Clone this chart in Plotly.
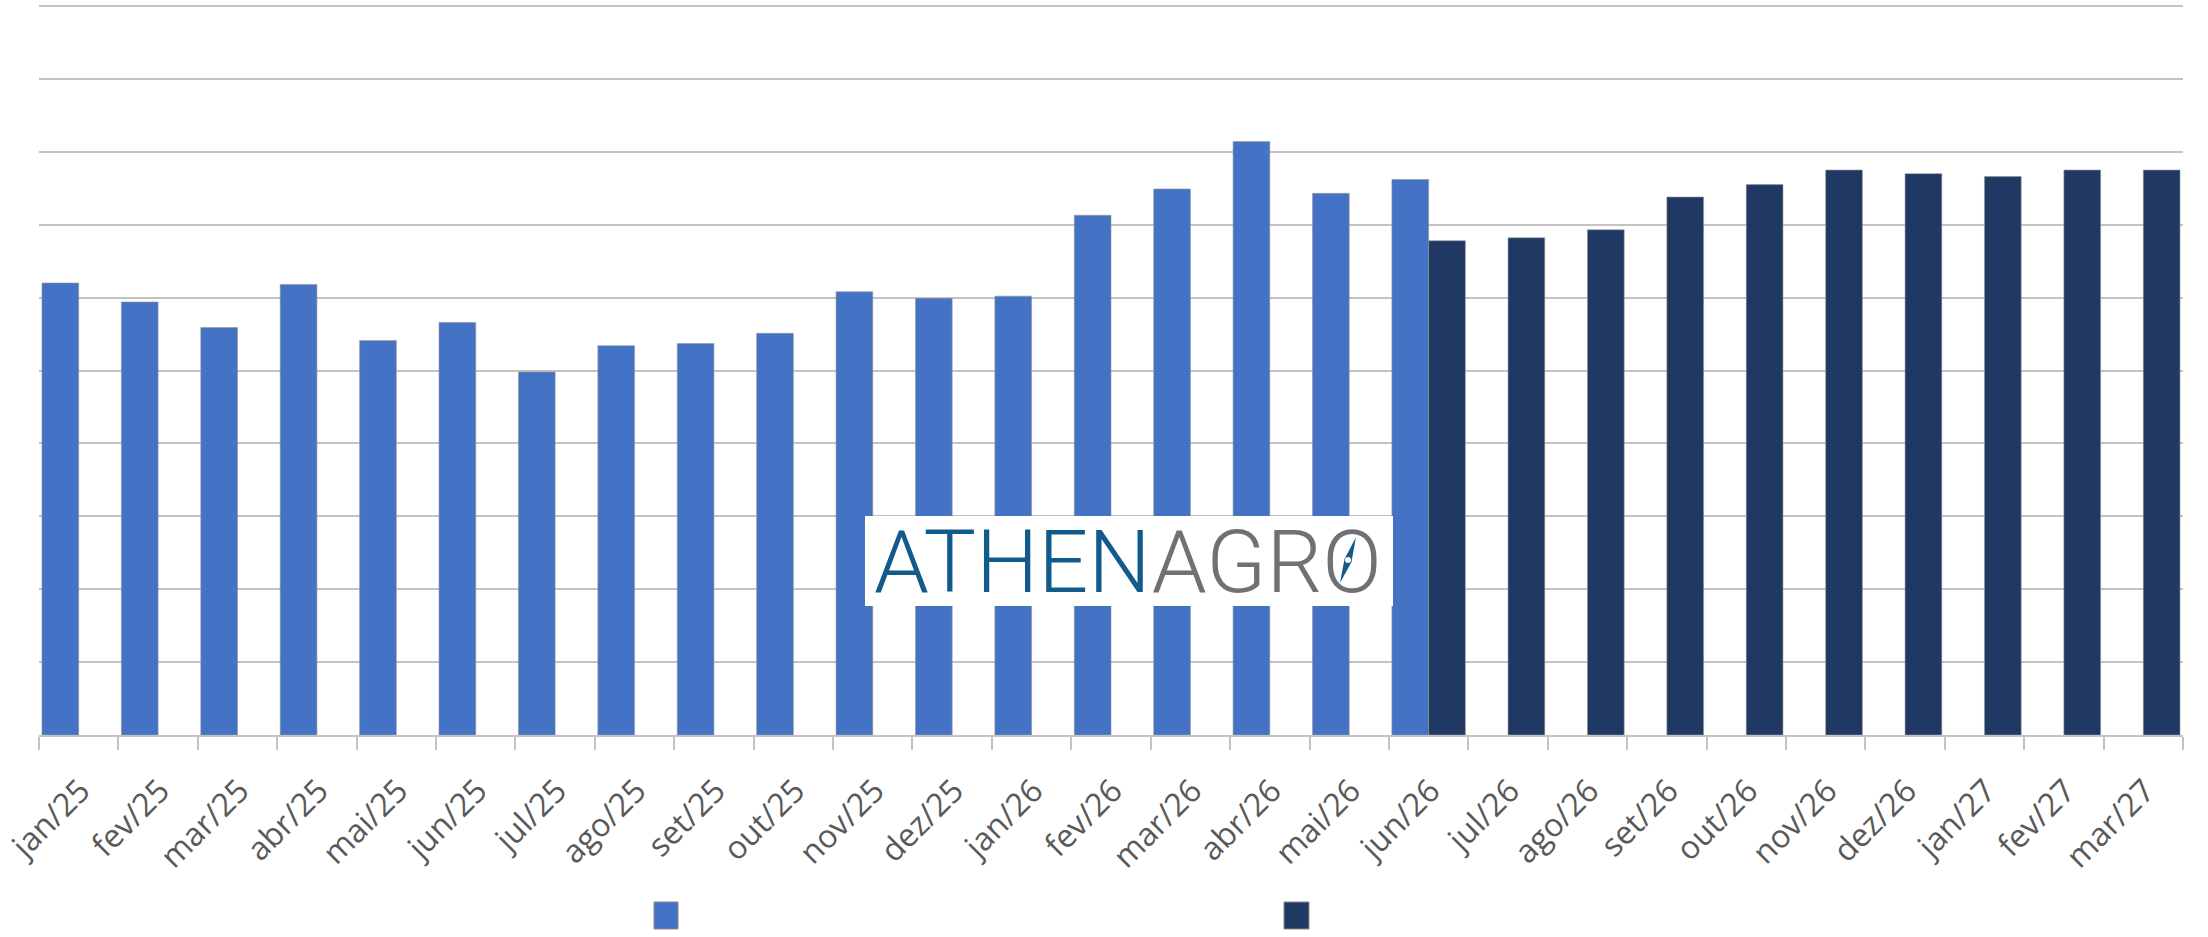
import plotly.graph_objects as go

# categorias (meses) e séries
meses = ["jan/25", "fev/25", "mar/25", "abr/25", "mai/25", "jun/25", "jul/25",
         "ago/25", "set/25", "out/25", "nov/25", "dez/25", "jan/26", "fev/26",
         "mar/26", "abr/26", "mai/26", "jun/26", "jul/26", "ago/26", "set/26",
         "out/26", "nov/26", "dez/26", "jan/27", "fev/27", "mar/27"]

realizado = [6.20, 5.94, 5.59, 6.18, 5.41, 5.66, 4.98, 5.34, 5.37, 5.51,
             6.08, 5.99, 6.02, 7.13, 7.49, 8.14, 7.43, 7.62,
             None, None, None, None, None, None, None, None, None]

projecao = [None] * 17 + [6.78, 6.82, 6.93, 7.38, 7.55, 7.75, 7.70, 7.66, 7.75, 7.75]

AZUL = "#4472C4"
ESCURO = "#1F3864"
GRADE = "#C3C3C3"
LOGO_AZUL = "#115A8B"
LOGO_CINZA = "#707174"

# margens em pixels (janela 2208x937)
L, R, T, B = 39, 25, 4, 202
W = 2208 - L - R
H = 937 - T - B


def px_x(p):
    return (p - L) / W


def px_y(p):
    return (937 - B - p) / H


fig = go.Figure()
fig.add_trace(go.Bar(x=meses, y=realizado, name=" ", marker_color=AZUL,
                     marker_line=dict(color="rgba(150,150,150,0.6)", width=1),
                     showlegend=False))
fig.add_trace(go.Bar(x=meses, y=projecao, name=" ", marker_color=ESCURO,
                     marker_line=dict(color="rgba(150,150,150,0.6)", width=1),
                     showlegend=False))

shapes = []
# caixa branca do logo
shapes.append(dict(type="rect", xref="paper", yref="paper", layer="above",
                   x0=px_x(865), x1=px_x(1393), y0=px_y(606), y1=px_y(516),
                   fillcolor="white", line_width=0))
# agulha da bússola dentro do "O"
shapes.append(dict(type="path", xref="paper", yref="paper", layer="above",
                   path="M {} {} L {} {} L {} {} L {} {} Z".format(
                       px_x(1356), px_y(537), px_x(1351.5), px_y(562),
                       px_x(1340), px_y(583), px_x(1344.5), px_y(559)),
                   fillcolor=LOGO_AZUL, line_width=0))
shapes.append(dict(type="circle", xref="paper", yref="paper", layer="above",
                   x0=px_x(1345), x1=px_x(1351), y0=px_y(563), y1=px_y(557),
                   fillcolor="white", line_width=0))
# quadrados da legenda
shapes.append(dict(type="rect", xref="paper", yref="paper",
                   x0=px_x(654), x1=px_x(678), y0=px_y(929), y1=px_y(902),
                   fillcolor=AZUL, line=dict(color="#8a8a8a", width=1)))
shapes.append(dict(type="rect", xref="paper", yref="paper",
                   x0=px_x(1284), x1=px_x(1309), y0=px_y(929), y1=px_y(902),
                   fillcolor=ESCURO, line=dict(color="#8a8a8a", width=1)))

logo = ("<span style='color:%s'>ATHEN</span><span style='color:%s'>AGRO</span>"
        % (LOGO_AZUL, LOGO_CINZA))
annotations = [dict(text=logo, xref="paper", yref="paper",
                    x=px_x(1128), y=px_y(561), xanchor="center", yanchor="middle",
                    showarrow=False,
                    font=dict(family="Roboto", size=88, weight=300))]

fig.update_layout(
    width=2208, height=937,
    margin=dict(l=L, r=R, t=T, b=B, autoexpand=False),
    paper_bgcolor="white", plot_bgcolor="white",
    barmode="group", bargap=0.075, bargroupgap=0,
    showlegend=False,
    shapes=shapes, annotations=annotations,
    xaxis=dict(type="category", showgrid=False, showline=True,
               linecolor=GRADE, linewidth=2, ticks="outside",
               tickson="boundaries", ticklen=13, tickcolor=GRADE,
               tickwidth=2, tickangle=-45, ticklabelstandoff=22,
               ticklabelshift=2,
               tickfont=dict(family="Open Sans", size=32, color="#595959"),
               automargin=False),
    yaxis=dict(range=[0, 10.0275], dtick=1, showticklabels=False, showline=False,
               zeroline=False, gridcolor=GRADE, gridwidth=2, ticks=""),
)

fig.write_html("out.html", config={"displayModeBar": False},
               post_script="document.body.style.margin='0';")
